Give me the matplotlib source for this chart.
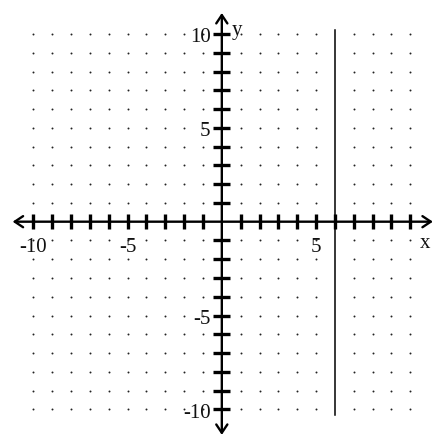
import numpy as np
import matplotlib.pyplot as plt

# grid of dots, axis ticks and labels
grid_vals = list(range(-10, 11))
x_labels = [-10, -5, 5]
y_labels = [10, 5, -5, -10]
line_x = 6
line_y = [-10.3, 10.2]

fig = plt.figure(figsize=(4.41, 4.46), dpi=100)
ax = fig.add_axes([0, 0, 1, 1])
ax.set_xlim(-11.77, 11.63)
ax.set_ylim(-11.95, 11.81)
ax.axis("off")

# dots
gx, gy = np.meshgrid(grid_vals, grid_vals)
mask = (gx != 0) & (gy != 0) & (gx != line_x)
ax.scatter(gx[mask], gy[mask], s=2.0, color="#222222", linewidths=0, zorder=1)

# axes with open arrow heads
arrow = dict(arrowstyle="<->,head_length=0.6,head_width=0.4", lw=1.7, color="black",
             shrinkA=0, shrinkB=0)
ax.annotate("", xy=(-11.1, 0), xytext=(11.2, 0), arrowprops=arrow)
ax.annotate("", xy=(0, 11.12), xytext=(0, -11.36), arrowprops=arrow)

# ticks
ticks = [v for v in grid_vals if v != 0]
ax.vlines(ticks, -0.4, 0.4, color="black", lw=2.4, zorder=3)
ax.hlines(ticks, -0.45, 0.45, color="black", lw=2.4, zorder=3)

# the vertical line x = 6
ax.plot([line_x, line_x], line_y, color="black", lw=1.1, zorder=2)

font = dict(family="Liberation Serif", fontsize=15, color="#111111")
for v in x_labels:
    ax.text(v, -1.35, str(v), ha="center", va="center", **font)
ax.text(10.8, -1.15, "x", ha="center", va="center", **font)
for v in y_labels:
    ax.text(-0.6, v - 0.2, str(v), ha="right", va="center", **font)
ax.text(0.55, 10.2, "y", ha="left", va="center", **font)

fig.savefig("out.png", dpi=100)
